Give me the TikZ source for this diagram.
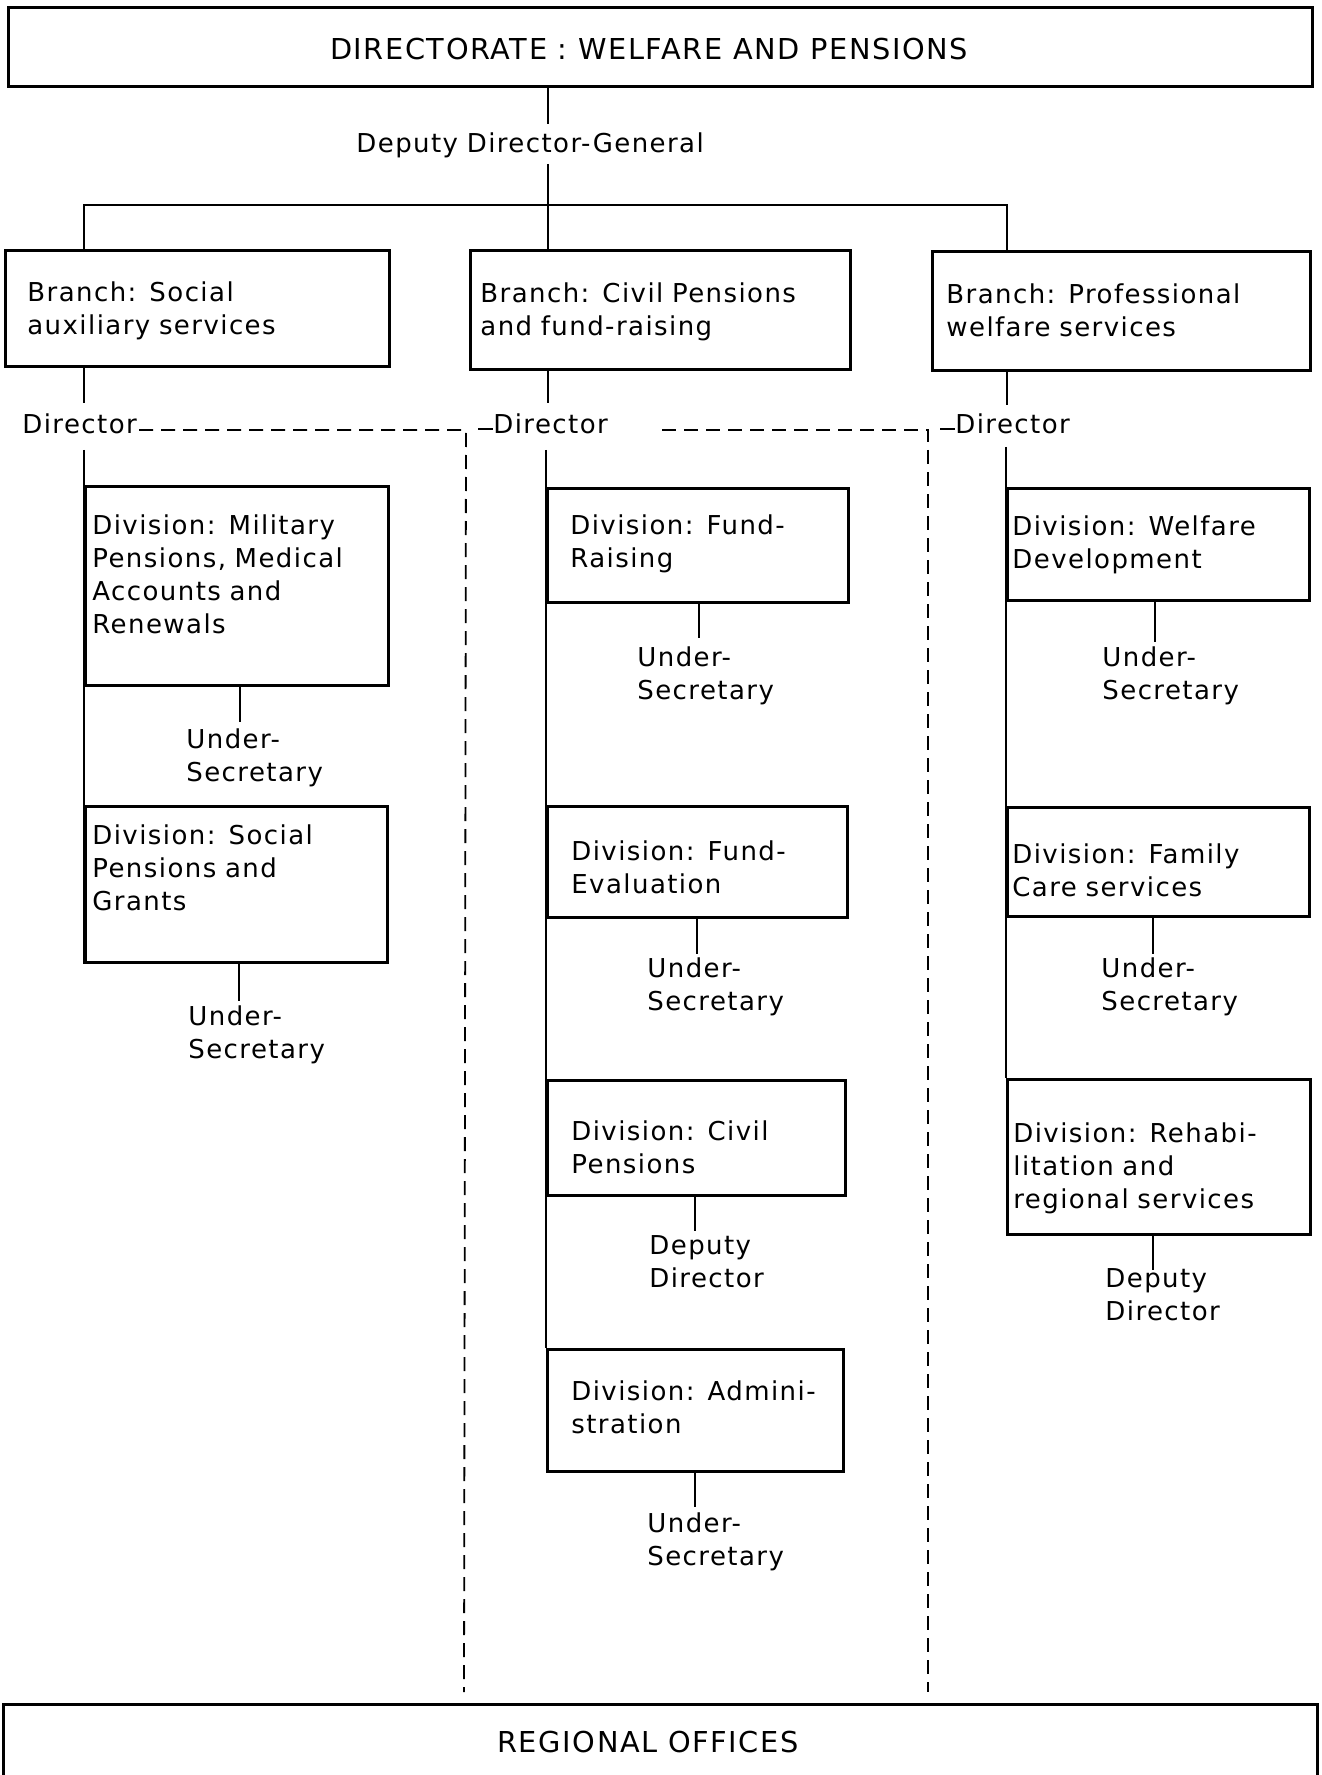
\documentclass[tikz,border=0pt]{standalone}
\usepackage{fontspec}
\setmainfont{DejaVu Sans}[LetterSpace=5.5]

\begin{document}
\begin{tikzpicture}[x=0.5pt,y=-0.5pt,
  box/.style={draw, line width=1.3pt, inner sep=0pt, anchor=north west},
  headtext/.style={anchor=base, inner sep=0pt, font=\fontsize{14.4}{17}\selectfont},
  lbl/.style={anchor=base west, inner sep=0pt, text width=250pt, align=left,
              font=\fontsize{13}{16.5}\selectfont},
  link/.style={line width=0.9pt},
  bar/.style={line width=1.3pt},
  dashline/.style={line width=0.9pt, dash pattern=on 7pt off 4pt},
]
\useasboundingbox (0,0) rectangle (1321,1775);

% ---------- directorate and branches ----------
\node[box, minimum width=652pt, minimum height=39.5pt] (title) at (7,6) {};
\node[headtext] (titlet) at (649,60) {DIRECTORATE : WELFARE AND PENSIONS};
\node[lbl] (ddg) at (356,153) {Deputy Director-General};

\node[box, minimum width=192pt, minimum height=58pt]   (b1) at (4,249)   {};
\node[box, minimum width=190pt, minimum height=59.5pt] (b2) at (469,249) {};
\node[box, minimum width=189pt, minimum height=59.5pt] (b3) at (931,250) {};
\node[lbl] (b1t) at (27,302)  {Branch: Social\\auxiliary services};
\node[lbl] (b2t) at (480,303) {Branch: Civil Pensions\\and fund-raising};
\node[lbl] (b3t) at (946,304) {Branch: Professional\\welfare services};

\coordinate (s1) at (548,124);
\coordinate (s2) at (548,164);
\draw[link] (title.south -| s1) -- (s1);
\draw[link] (s2) -- (b2.north -| s2);
\coordinate (hl) at (84,205);
\coordinate (hr) at (1007,205);
\draw[bar] (b1.north -| hl) -- (hl) -- (hr) -- (b3.north -| hr);

% ---------- directors ----------
\node[lbl] (dirL) at (22,434)  {Director};
\node[lbl] (dirM) at (493,434) {Director};
\node[lbl] (dirR) at (955,434) {Director};

\coordinate (lA) at (84,403);   \coordinate (lB) at (84,450);
\coordinate (mA) at (548,403);  \coordinate (mB) at (546,450);
\coordinate (rA) at (1007,405); \coordinate (rB) at (1006,447);
\draw[link] (b1.south -| lA) -- (lA);
\draw[link] (b2.south -| mA) -- (mA);
\draw[link] (b3.south -| rA) -- (rA);

% dashed liaison lines down to the regional offices
\coordinate (dL1) at (139,430); \coordinate (cL) at (466,430); \coordinate (cLb) at (464,1692);
\coordinate (dR1) at (662,430); \coordinate (cR) at (928,430); \coordinate (cRb) at (928,1692);
\draw[dashline] (dL1) -- (cL) -- (cLb);
\draw[dashline] (dR1) -- (cR) -- (cRb);
\coordinate (tL) at (478,429);
\coordinate (tR) at (940,429);
\draw[link] (tL) -- (tL -| dirM.west);
\draw[link] (tR) -- (tR -| dirR.west);

% ---------- left column ----------
\node[box, minimum width=151.5pt, minimum height=99.5pt] (mil) at (84,485) {};
\node[lbl] (milt) at (92,534) {Division: Military\\Pensions, Medical\\Accounts and\\Renewals};
\node[box, minimum width=151pt, minimum height=78pt] (soc) at (84,805) {};
\node[lbl] (soct) at (92,844) {Division: Social\\Pensions and\\Grants};
\draw[link] (lB) -- (soc.south west);

\node[lbl] (usA) at (186,748)  {Under-\\Secretary};
\node[lbl] (usB) at (188,1025) {Under-\\Secretary};
\coordinate (kA) at (240,722);
\coordinate (kB) at (239,1001);
\draw[link] (mil.south -| kA) -- (kA);
\draw[link] (soc.south -| kB) -- (kB);

% ---------- middle column ----------
\node[box, minimum width=150.5pt, minimum height=57pt]   (fr)  at (546,487)  {};
\node[box, minimum width=150pt,   minimum height=55.5pt] (fe)  at (546,805)  {};
\node[box, minimum width=149pt,   minimum height=57.5pt] (cp)  at (546,1079) {};
\node[box, minimum width=148pt,   minimum height=61pt]   (adm) at (546,1348) {};
\node[lbl] (frt)  at (570,534)  {Division: Fund-\\Raising};
\node[lbl] (fet)  at (571,860)  {Division: Fund-\\Evaluation};
\node[lbl] (cpt)  at (571,1140) {Division: Civil\\Pensions};
\node[lbl] (admt) at (571,1400) {Division: Admini-\\stration};
\draw[link] (mB) -- (adm.north west);

\node[lbl] (usC) at (637,666)  {Under-\\Secretary};
\node[lbl] (usD) at (647,977)  {Under-\\Secretary};
\node[lbl] (ddA) at (649,1254) {Deputy\\Director};
\node[lbl] (usE) at (647,1532) {Under-\\Secretary};
\coordinate (kC) at (699,638);
\coordinate (kD) at (697,954);
\coordinate (kE) at (695,1231);
\coordinate (kF) at (695,1507);
\draw[link] (fr.south -| kC) -- (kC);
\draw[link] (fe.south -| kD) -- (kD);
\draw[link] (cp.south -| kE) -- (kE);
\draw[link] (adm.south -| kF) -- (kF);

% ---------- right column ----------
\node[box, minimum width=151pt,   minimum height=56pt]   (wd)  at (1006,487)  {};
\node[box, minimum width=151pt,   minimum height=54.5pt] (fc)  at (1006,806)  {};
\node[box, minimum width=151.5pt, minimum height=77.5pt] (reh) at (1006,1078) {};
\node[lbl] (wdt)  at (1012,535)  {Division: Welfare\\Development};
\node[lbl] (fct)  at (1012,863)  {Division: Family\\Care services};
\node[lbl] (reht) at (1013,1142) {Division: Rehabi-\\litation and\\regional services};
\draw[link] (rB) -- (reh.north west);

\node[lbl] (usF) at (1102,666)  {Under-\\Secretary};
\node[lbl] (usG) at (1101,977)  {Under-\\Secretary};
\node[lbl] (ddB) at (1105,1287) {Deputy\\Director};
\coordinate (kG) at (1155,642);
\coordinate (kH) at (1153,954);
\coordinate (kI) at (1153,1270);
\draw[link] (wd.south -| kG) -- (kG);
\draw[link] (fc.south -| kH) -- (kH);
\draw[link] (reh.south -| kI) -- (kI);

% ---------- regional offices ----------
\node[box, minimum width=657pt, minimum height=39pt] (reg) at (2,1703) {};
\node[headtext] (regt) at (648,1752) {REGIONAL OFFICES};
\end{tikzpicture}
\end{document}
